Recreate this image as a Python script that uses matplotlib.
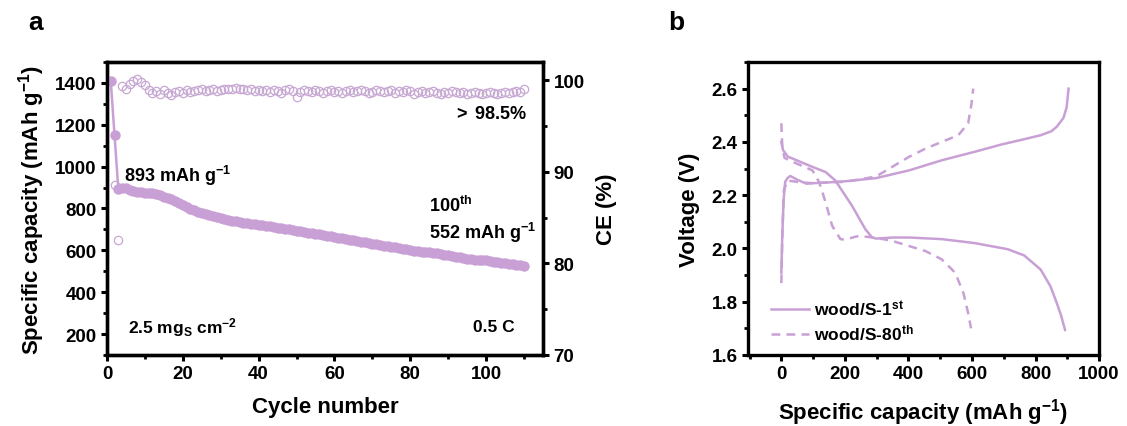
import matplotlib
matplotlib.use("Agg")
import matplotlib.pyplot as plt
from matplotlib.ticker import MultipleLocator, FormatStrFormatter

plt.rcParams['font.family'] = ['Liberation Sans', 'DejaVu Sans']
plt.rcParams['font.weight'] = 'bold'
plt.rcParams['mathtext.fontset'] = 'custom'
plt.rcParams['mathtext.rm'] = 'Liberation Sans'
plt.rcParams['mathtext.bf'] = 'Liberation Sans:bold'
plt.rcParams['mathtext.it'] = 'Liberation Sans:italic'

# ---------------- data: panel a ----------------
cycles = list(range(1, 111))
capacity = [1410, 1150, 893, 900, 896, 890, 884, 880, 878, 876,
            875, 874, 870, 864, 857, 850, 843, 834, 825, 816,
            807, 799, 791, 784, 778, 772, 767, 762, 757, 753,
            749, 745, 741, 738, 735, 732, 730, 727, 725, 722,
            720, 717, 714, 712, 709, 706, 703, 700, 697, 694,
            691, 688, 685, 682, 679, 676, 673, 670, 667, 664,
            660, 657, 654, 651, 648, 645, 642, 639, 636, 632,
            629, 626, 623, 620, 617, 614, 611, 608, 605, 601,
            598, 596, 594, 592, 590, 588, 585, 582, 579, 576,
            573, 570, 567, 564, 561, 558, 556, 554, 553, 552,
            549, 546, 544, 541, 538, 535, 533, 530, 528, 525]
ce_cycles = list(range(2, 111))
ce = [88.6, 82.6, 99.4, 99.0, 99.6, 99.9, 100.1, 99.8, 99.5,
      98.9, 98.6, 98.8, 98.5, 98.9, 98.6, 98.4, 98.7, 98.8, 98.6,
      98.9, 98.7, 98.8, 98.9, 99.0, 98.8, 98.9, 99.0, 98.8, 98.9,
      99.0, 99.1, 99.0, 99.2, 99.0, 99.1, 98.9, 99.0, 98.8, 98.9,
      98.8, 98.9, 98.7, 98.9, 98.8, 98.6, 98.9, 99.0, 98.8, 98.2,
      98.7, 98.9, 98.8, 98.7, 98.9, 98.8, 98.6, 98.8, 98.9, 98.7,
      98.8, 98.6, 98.8, 98.9, 98.7, 98.8, 98.9, 98.8, 98.6, 98.7,
      98.9, 98.8, 98.7, 98.8, 98.9, 98.6, 98.8, 98.7, 98.9, 98.8,
      98.5, 98.7, 98.8, 98.6, 98.7, 98.8, 98.6, 98.5, 98.7, 98.6,
      98.8, 98.7, 98.6, 98.7, 98.5, 98.6, 98.7, 98.6, 98.5, 98.6,
      98.7, 98.6, 98.5, 98.6, 98.7, 98.6, 98.7, 98.8, 98.7, 99.1]

# ---------------- data: panel b ----------------
dis1_cap = [0, 5, 20, 36, 98, 139, 170, 222, 264, 285, 298, 350, 402, 505, 609, 713, 764, 816, 847, 867, 880, 893]
dis1_v = [2.40, 2.37, 2.345, 2.337, 2.306, 2.287, 2.255, 2.161, 2.073, 2.042, 2.037, 2.041, 2.041, 2.035, 2.020, 1.997, 1.974, 1.921, 1.858, 1.795, 1.75, 1.694]
chg1_cap = [0, 3, 7, 12, 20, 28, 50, 79, 100, 150, 200, 298, 402, 505, 609, 692, 764, 816, 850, 867, 888, 898, 904]
chg1_v = [1.909, 2.05, 2.18, 2.25, 2.265, 2.272, 2.258, 2.243, 2.245, 2.248, 2.252, 2.264, 2.293, 2.331, 2.363, 2.390, 2.410, 2.425, 2.44, 2.457, 2.49, 2.53, 2.60]
dis80_cap = [0, 3, 10, 36, 98, 119, 139, 160, 186, 200, 243, 298, 350, 402, 454, 505, 547, 573, 588, 597]
dis80_v = [2.47, 2.38, 2.34, 2.325, 2.293, 2.249, 2.174, 2.085, 2.035, 2.033, 2.047, 2.040, 2.028, 2.009, 1.990, 1.959, 1.909, 1.833, 1.757, 1.70]
chg80_cap = [0, 3, 8, 20, 60, 100, 150, 200, 250, 298, 350, 402, 454, 505, 557, 588, 598, 604]
chg80_v = [1.87, 2.05, 2.22, 2.255, 2.248, 2.245, 2.248, 2.25, 2.26, 2.27, 2.307, 2.344, 2.375, 2.40, 2.425, 2.47, 2.539, 2.60]

purple = '#c9a0d6'
ce_color = '#c7a8d3'

fig = plt.figure(figsize=(11.27, 4.27), dpi=100)

# ================= panel a =================
ax1 = fig.add_axes([0.0949, 0.1663, 0.3869, 0.6862])
ax1.plot(cycles, capacity, color=purple, lw=1.8, marker='o', ms=6.5,
         mfc=purple, mec=purple, zorder=3)
ax1.set_xlim(0, 115)
ax1.set_ylim(100, 1500)
ax1.xaxis.set_major_locator(MultipleLocator(20))
ax1.xaxis.set_minor_locator(MultipleLocator(10))
ax1.yaxis.set_major_locator(MultipleLocator(200))
ax1.yaxis.set_minor_locator(MultipleLocator(100))
ax1.set_yticks(range(200, 1401, 200))
ax1.set_xlabel('Cycle number', fontsize=16, fontweight='bold', labelpad=10)
ax1.set_ylabel(r'Specific capacity (mAh g$^{\mathbf{-1}}$)', fontsize=16, fontweight='bold', labelpad=6)

ax2 = ax1.twinx()
ax2.plot(ce_cycles, ce, linestyle='none', marker='o', ms=6, mfc='none',
         mec=ce_color, mew=0.9, zorder=2)
ax2.set_ylim(70, 102)
ax2.yaxis.set_major_locator(MultipleLocator(10))
ax2.yaxis.set_minor_locator(MultipleLocator(5))
ax2.set_ylabel('CE (%)', fontsize=16, fontweight='bold', labelpad=8)

for ax in (ax1, ax2):
    for s in ax.spines.values():
        s.set_linewidth(2.4)
    ax.tick_params(which='major', direction='out', length=4.5, width=2.2, labelsize=13.5, pad=3)
    ax.tick_params(which='minor', direction='out', length=3, width=2.0)
ax1.tick_params(axis='both', which='both', top=False, right=False)
for lab in ax1.get_xticklabels() + ax1.get_yticklabels() + ax2.get_yticklabels():
    lab.set_fontweight('bold')

ax1.text(4.5, 962, r'893 mAh g$^{\mathbf{-1}}$', fontsize=13, fontweight='bold', va='center')
ax1.text(85, 815, r'100$^{\mathbf{th}}$', fontsize=13, fontweight='bold', va='center')
ax1.text(85, 690, r'552 mAh g$^{\mathbf{-1}}$', fontsize=13, fontweight='bold', va='center')
ax1.text(111, 1255, r'$>$ 98.5%', fontsize=13, fontweight='bold', va='center', ha='right')
ax1.text(5.5, 238, r'2.5 mg$_{\mathrm{S}}$ cm$^{\mathbf{-2}}$', fontsize=12.5, fontweight='bold', va='center')
ax1.text(107.5, 238, '0.5 C', fontsize=12.5, fontweight='bold', va='center', ha='right')

# ================= panel b =================
ax3 = fig.add_axes([0.6637, 0.1663, 0.3115, 0.6862])
ax3.plot(dis1_cap, dis1_v, color=purple, lw=1.8, label=r'wood/S-1$^{\mathbf{st}}$')
ax3.plot(chg1_cap, chg1_v, color=purple, lw=1.8)
ax3.plot(dis80_cap, dis80_v, color=purple, lw=1.8, ls=(0, (3.5, 2.5)), label=r'wood/S-80$^{\mathbf{th}}$')
ax3.plot(chg80_cap, chg80_v, color=purple, lw=1.8, ls=(0, (3.5, 2.5)))
ax3.set_xlim(-105, 1000)
ax3.set_ylim(1.6, 2.7)
ax3.xaxis.set_major_locator(MultipleLocator(200))
ax3.xaxis.set_minor_locator(MultipleLocator(100))
ax3.yaxis.set_major_locator(MultipleLocator(0.2))
ax3.yaxis.set_minor_locator(MultipleLocator(0.1))
ax3.set_xticks(range(0, 1001, 200))
ax3.yaxis.set_major_formatter(FormatStrFormatter('%.1f'))
ax3.set_xlabel(r'Specific capacity (mAh g$^{\mathbf{-1}}$)', fontsize=16, fontweight='bold', labelpad=10)
ax3.set_ylabel('Voltage (V)', fontsize=16, fontweight='bold', labelpad=8)
for s in ax3.spines.values():
    s.set_linewidth(2.4)
ax3.tick_params(which='major', direction='out', length=4.5, width=2.2, labelsize=13.5, pad=3,
                top=False, right=False)
ax3.tick_params(which='minor', direction='out', length=3, width=2.0, top=False, right=False)
for lab in ax3.get_xticklabels() + ax3.get_yticklabels():
    lab.set_fontweight('bold')
leg = ax3.legend(loc='lower left', frameon=False, fontsize=12.5, handlelength=2.2,
                 handletextpad=0.3, labelspacing=0.3, borderaxespad=0.3,
                 bbox_to_anchor=(0.03, 0.0))
for t in leg.get_texts():
    t.set_fontweight('bold')

fig.text(0.025, 0.945, 'a', fontsize=19, fontweight='bold', va='center')
fig.text(0.593, 0.945, 'b', fontsize=19, fontweight='bold', va='center')

fig.savefig('out.png', dpi=100)
